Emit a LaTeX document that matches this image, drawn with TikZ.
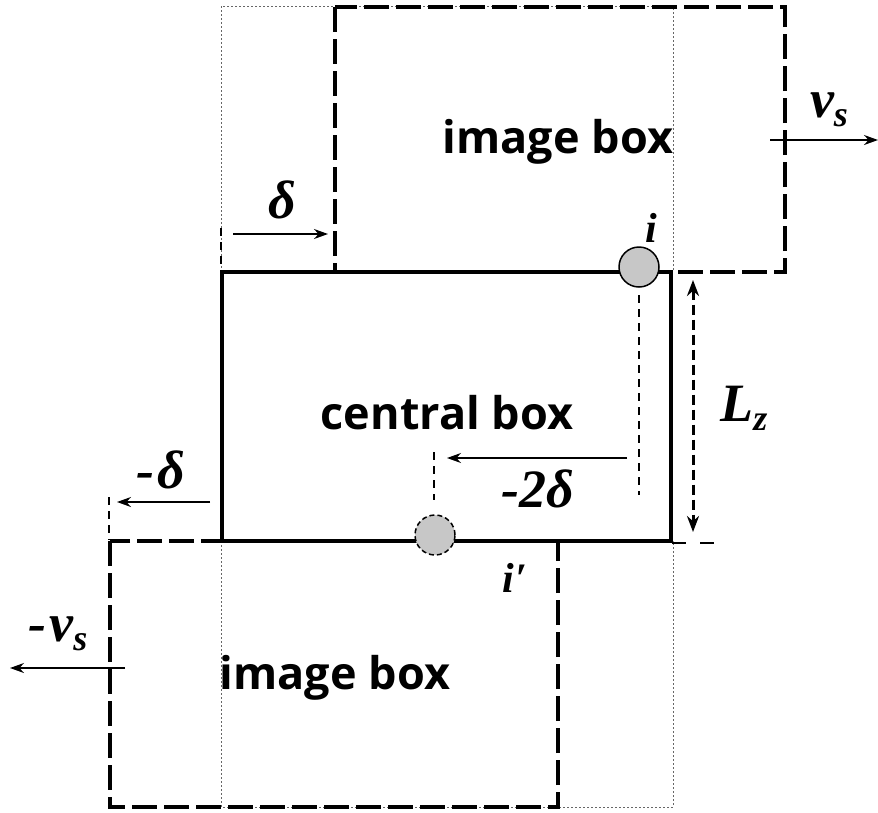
\documentclass[tikz,border=0pt]{standalone}
\usepackage{fontspec}
\newfontface\labfont{Liberation Serif Bold Italic}
\newfontface\boxfont{Open Sans Bold}
\usetikzlibrary{arrows.meta}
\newcommand{\mysub}[1]{\raisebox{-9pt}{\labfont\fontsize{36}{40}\selectfont #1}}
\tikzset{
  thickdash/.style={line width=4pt, dash pattern=on 25pt off 7pt},
  dotbox/.style={line width=0.8pt, black!60, dash pattern=on 2pt off 2pt},
  solidbox/.style={line width=4pt},
  thindash/.style={line width=1.5pt, dash pattern=on 8pt off 6pt},
  arr/.style={line width=1.5pt, -{Stealth[length=14pt,width=10pt]}},
  lzarr/.style={line width=3pt, dash pattern=on 10pt off 5pt, {Stealth[length=16pt,width=12pt]}-{Stealth[length=16pt,width=12pt]}},
  lbl/.style={font=\labfont\fontsize{54}{60}\selectfont, inner sep=0pt},
  ilbl/.style={font=\labfont\fontsize{42}{48}\selectfont, inner sep=0pt},
  boxlbl/.style={font=\boxfont\fontsize{45}{54}\selectfont, inner sep=0pt},
  part/.style={circle, minimum size=40pt, inner sep=0pt, fill=black!22, draw=black, line width=1.5pt}
}
\begin{document}
\begin{tikzpicture}[x=1pt,y=-1pt]
\useasboundingbox (0,0) rectangle (878,812);
% dotted reference boxes
\draw[dotbox] (221,6) rectangle (673,272);
\draw[dotbox] (221,541) rectangle (673,807);
% image boxes
\draw[thickdash] (335,7) rectangle (785,272);
\draw[thickdash] (110,541) rectangle (558,807);
% central box
\draw[solidbox] (222,272) rectangle (671,541);
% labels of boxes
\node[boxlbl] (imgtop) at (558,142) {image box};
\node[boxlbl] (central) at (447,413) {central box};
\node[boxlbl] (imgbot) at (335,678) {image box};
% particles
\node[part] (pi) at (639,267) {};
\node[part, dash pattern=on 5pt off 3pt] (pip) at (435,535) {};
\node[ilbl] (li) at (651,228) {i};
\node[ilbl] (lip) at (515,578) {i\kern2pt\char"2032};
% -2delta
\coordinate (dA) at (639,295);
\coordinate (dB) at (639,495);
\draw[thindash] (dA) -- (dB);
\coordinate (dC) at (434,452);
\coordinate (dD) at (434,500);
\draw[thindash] (dC) -- (dD);
\coordinate (a2s) at (627,458);
\coordinate (a2e) at (447,458);
\draw[arr] (a2s) -- (a2e);
\node[lbl] (l2d) at (538,489) {-2δ};
% delta
\coordinate (t1) at (221,228);
\coordinate (t2) at (221,272);
\draw[thindash] (t1) -- (t2);
\coordinate (ds) at (233,234);
\coordinate (de) at (328,234);
\draw[arr] (ds) -- (de);
\node[lbl] (ld) at (282,200) {δ};
% -delta
\coordinate (t3) at (109,497);
\coordinate (t4) at (109,540);
\draw[thindash] (t3) -- (t4);
\coordinate (mds) at (210,502);
\coordinate (mde) at (117,502);
\draw[arr] (mds) -- (mde);
\node[lbl] (lmd) at (161,470) {-\kern3pt δ};
% v_s
\coordinate (vs) at (770,140);
\coordinate (ve) at (878,140);
\draw[arr] (vs) -- (ve);
\node[lbl] (lv) at (829,110) {v\mysub{s}};
% -v_s
\coordinate (mvs) at (125,668);
\coordinate (mve) at (10,668);
\draw[arr] (mvs) -- (mve);
\node[lbl] (lmv) at (58,634) {-\kern3pt v\mysub{s}};
% L_z
\coordinate (lzt) at (693,280);
\coordinate (lzb) at (693,532);
\draw[lzarr] (lzt) -- (lzb);
\coordinate (e1) at (672,543);
\coordinate (e2) at (716,543);
\draw[line width=1.5pt, dash pattern=on 14pt off 14pt] (e1) -- (e2);
\node[lbl] (llz) at (744,408) {L\mysub{z}};
\end{tikzpicture}
\end{document}
